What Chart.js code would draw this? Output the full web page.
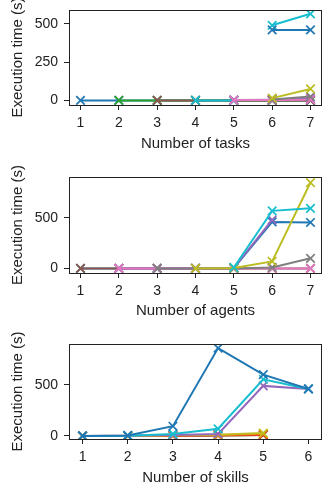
<!DOCTYPE html>
<html>
<head>
<meta charset="utf-8">
<script src="https://cdn.jsdelivr.net/npm/chart.js@4/dist/chart.umd.min.js"></script>
<style>
  html, body { margin: 0; padding: 0; background: #fff; }
  canvas { display: block; }
</style>
</head>
<body>
<canvas id="tasksChart" width="330" height="160"></canvas>
<canvas id="agentsChart" width="330" height="160"></canvas>
<canvas id="skillsChart" width="330" height="169"></canvas>
<script>
// tab10 colours
const C = {
  blue: "#1f77b4", orange: "#ff7f0e", green: "#2ca02c", red: "#d62728",
  purple: "#9467bd", brown: "#8c564b", pink: "#e377c2", gray: "#7f7f7f",
  olive: "#bcbd22", cyan: "#17becf",
};

// --- number of tasks ---
const taskLabels = [1, 2, 3, 4, 5, 6, 7];
const taskTicksY = [0, 250, 500];
const taskSeries = [
  ["blue",   [0, 0, 0, 0, 0, 0, 0]],
  ["green",  [null, 0, 0, 0, 0, 0, 0]],
  ["brown",  [null, null, 0, 0, 0, 0, 0]],
  ["cyan",   [null, null, null, 0, 0, null, null]],
  ["purple", [null, null, null, null, 3, 5, 12]],
  ["pink",   [null, null, null, null, 2, 3, 5]],
  ["gray",   [null, null, null, null, null, 6, 25]],
  ["olive",  [null, null, null, null, null, 15, 75]],
  ["cyan",   [null, null, null, null, null, 490, 565]],
  ["blue",   [null, null, null, null, null, 460, 460]],
];

// --- number of agents ---
const agentLabels = [1, 2, 3, 4, 5, 6, 7];
const agentTicksY = [0, 500];
const agentSeries = [
  ["blue",   [0, 0, 0, 0, 5, 460, 455]],
  ["brown",  [0, 0, 0, 0, 0, 0, 0]],
  ["purple", [null, 0, 0, 0, 5, 480, null]],
  ["pink",   [null, 0, 0, 0, 0, 0, 0]],
  ["gray",   [null, null, 0, 0, 0, 10, 100]],
  ["olive",  [null, null, null, 0, 5, 70, 850]],
  ["cyan",   [null, null, null, null, 10, 570, 595]],
];

// --- number of skills ---
const skillLabels = [1, 2, 3, 4, 5, 6];
const skillTicksY = [0, 500];
const skillSeries = [
  ["green",  [0, 0, 3, 5, 10, null]],
  ["red",    [0, 0, 2, 4, 10, null]],
  ["orange", [0, 0, 5, 8, 20, null]],
  ["olive",  [0, 0, 8, 12, 28, null]],
  ["purple", [0, 2, 10, 20, 490, 460]],
  ["cyan",   [0, 3, 20, 70, 555, 460]],
  ["blue",   [0, 5, 95, 860, 600, 460]],
];

const FONT = "'Liberation Sans', Arial, sans-serif";

const frame = {
  id: "frame",
  afterDatasetsDraw(chart) {
    const a = chart.chartArea;
    const g = chart.ctx;
    g.save();
    g.strokeStyle = "#222";
    g.lineWidth = 1;
    g.strokeRect(a.left + 0.5, a.top + 0.5, a.right - a.left - 1, a.bottom - a.top);
    g.restore();
  },
};

function makeChart(id, labels, series, ticksY, yMin, yMax, xTitle, cfg) {
  const datasets = series.map(([col, vals], i) => ({
    data: vals.map((v, j) => ({ x: labels[j], y: v })),
    borderColor: C[col],
    backgroundColor: C[col],
    borderWidth: 2,
    pointStyle: "crossRot",
    pointRadius: 6,
    pointBorderWidth: 1.7,
    spanGaps: false,
    order: series.length - i,
  }));
  new Chart(document.getElementById(id), {
    type: "line",
    data: { datasets },
    plugins: [frame],
    options: {
      responsive: false,
      animation: false,
      devicePixelRatio: 1,
      layout: { padding: { top: cfg.top, right: 8, left: 0, bottom: 0 } },
      plugins: { legend: { display: false }, tooltip: { enabled: false } },
      scales: {
        x: {
          type: "linear",
          min: labels[0] - 0.3,
          max: labels[labels.length - 1] + 0.3,
          afterBuildTicks: (s) => { s.ticks = labels.map((v) => ({ value: v })); },
          afterFit: (s) => { s.height = cfg.xh; s.paddingLeft = 0; s.paddingRight = 0; },
          grid: { drawOnChartArea: false, drawTicks: true, tickLength: 5, color: "#222" },
          border: { display: false },
          ticks: { color: "#222", font: { family: FONT, size: 14 }, padding: 5, maxRotation: 0 },
          title: { display: true, text: xTitle, color: "#222", font: { family: FONT, size: 15 }, padding: { top: 0, bottom: cfg.tb } },
        },
        y: {
          min: yMin,
          max: yMax,
          afterBuildTicks: (s) => { s.ticks = ticksY.map((v) => ({ value: v })); },
          afterFit: (s) => { s.width = 69; s.paddingTop = 0; s.paddingBottom = 0; },
          grid: { drawOnChartArea: false, drawTicks: true, tickLength: 5, color: "#222" },
          border: { display: false },
          ticks: { color: "#222", font: { family: FONT, size: 14 }, padding: 6 },
          title: { display: true, text: "Execution time (s)", color: "#222", font: { family: FONT, size: 15 }, padding: { top: 9, bottom: 0 } },
        },
      },
    },
  });
}

makeChart("tasksChart", taskLabels, taskSeries, taskTicksY, -30, 590, "Number of tasks", { top: 10, xh: 55, tb: 7 });
makeChart("agentsChart", agentLabels, agentSeries, agentTicksY, -45, 905, "Number of agents", { top: 17, xh: 47, tb: 0 });
makeChart("skillsChart", skillLabels, skillSeries, skillTicksY, -30, 900, "Number of skills", { top: 24, xh: 50, tb: 2 });
</script>
</body>
</html>
